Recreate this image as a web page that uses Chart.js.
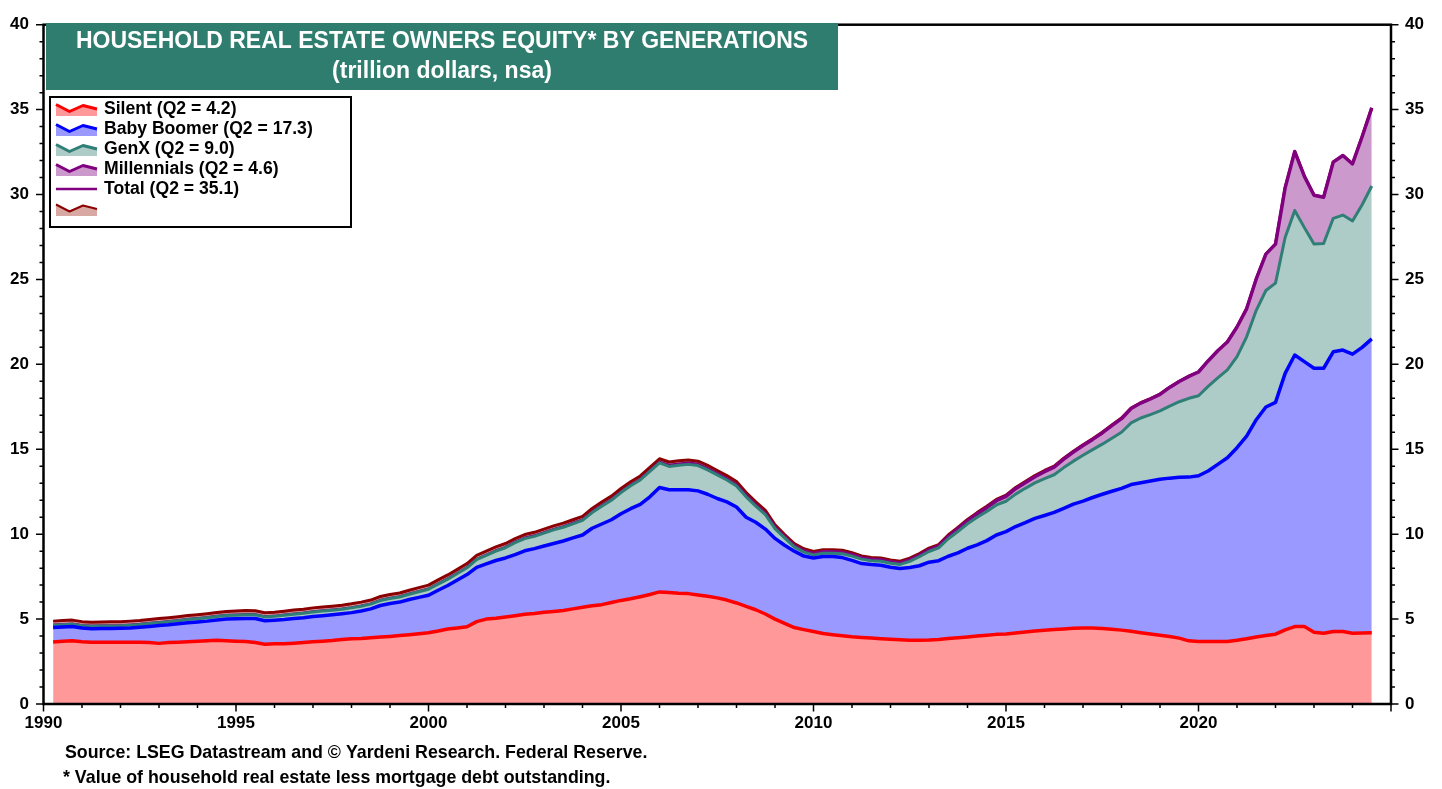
<!DOCTYPE html>
<html>
<head>
<meta charset="utf-8">
<script src="https://cdn.jsdelivr.net/npm/chart.js@4.4.1/dist/chart.umd.min.js"></script>
<style>
html,body{margin:0;padding:0;background:#fff;overflow:hidden}
#wrap{position:relative;width:1442px;height:789px}
</style>
</head>
<body>
<div id="wrap"><canvas id="c" width="1442" height="789"></canvas></div>
<script>
// ---------- DATA (quarterly, trillion dollars, 1990Q1 .. 2024Q2) ----------
const firstYear = 1990;          // first observation is 1990 Q1
const lastYear = 2024, lastQuarter = 2;

const xTickLabels = ['1990','1995','2000','2005','2010','2015','2020'];
const yTickLabels = ['0','5','10','15','20','25','30','35','40'];

const titleLines = ['HOUSEHOLD REAL ESTATE OWNERS EQUITY* BY GENERATIONS', '(trillion dollars, nsa)'];
const footnotes = ['Source: LSEG Datastream and \u00A9 Yardeni Research. Federal Reserve.',
                   '* Value of household real estate less mortgage debt outstanding.'];

const silent = [
 3.65,3.70,3.72,3.66, 3.64,3.64,3.64,3.64, 3.64,3.64,3.62,3.57, 3.62,3.64,3.67,3.69, 3.72,3.75,3.72,3.70,
 3.68,3.62,3.52,3.55, 3.55,3.58,3.62,3.67, 3.70,3.74,3.80,3.84, 3.86,3.90,3.94,3.98, 4.03,4.08,4.14,4.20,
 4.30,4.42,4.48,4.55, 4.85,5.00,5.05,5.12, 5.20,5.28,5.33,5.40, 5.45,5.50,5.60,5.70, 5.78,5.85,5.98,6.10,
 6.20,6.32,6.45,6.60, 6.56,6.52,6.50,6.42, 6.35,6.25,6.12,5.95, 5.75,5.55,5.30,5.00, 4.75,4.50,4.38,4.27,
 4.15,4.08,4.02,3.96, 3.92,3.88,3.84,3.81, 3.78,3.76,3.76,3.77, 3.80,3.85,3.90,3.95, 4.00,4.05,4.10,4.12,
 4.18,4.24,4.30,4.34, 4.38,4.42,4.46,4.47, 4.47,4.45,4.40,4.35, 4.28,4.20,4.12,4.05, 3.97,3.88,3.72,3.68,
 3.68,3.68,3.68,3.75, 3.84,3.95,4.03,4.11, 4.37,4.56,4.56,4.23, 4.17,4.27,4.27,4.17, 4.18,4.20
];
const babyBoomer = [
 0.85,0.83,0.84,0.81, 0.79,0.80,0.81,0.82, 0.84,0.88,0.95,1.05, 1.04,1.08,1.11,1.14, 1.16,1.20,1.28,1.32,
 1.36,1.41,1.38,1.38, 1.42,1.45,1.46,1.48, 1.50,1.51,1.51,1.54, 1.62,1.70,1.86,1.94, 1.97,2.07,2.14,2.20,
 2.40,2.56,2.82,3.07, 3.20,3.25,3.40,3.48, 3.60,3.74,3.82,3.90, 4.00,4.10,4.18,4.25, 4.57,4.75,4.87,5.10,
 5.30,5.43,5.75,6.15, 6.06,6.10,6.12,6.13, 6.00,5.85,5.78,5.65, 5.25,5.15,5.00,4.75, 4.60,4.50,4.33,4.33,
 4.53,4.60,4.60,4.50, 4.35,4.33,4.33,4.24, 4.20,4.28,4.38,4.58, 4.64,4.85,5.00,5.22, 5.37,5.57,5.85,6.03,
 6.27,6.44,6.63,6.76, 6.90,7.10,7.31,7.48, 7.69,7.90,8.13,8.35, 8.64,8.83,9.01,9.18, 9.33,9.47,9.64,9.76,
 10.04,10.43,10.82,11.34, 11.93,12.79,13.46,13.65, 15.10,15.99,15.60,15.54, 15.60,16.47,16.57,16.43, 16.82,17.30
];
const genX = [
 0.14,0.14,0.14,0.14, 0.15,0.15,0.15,0.15, 0.16,0.16,0.17,0.17, 0.18,0.18,0.19,0.19, 0.20,0.20,0.21,0.21,
 0.22,0.22,0.23,0.23, 0.25,0.26,0.26,0.27, 0.27,0.27,0.27,0.28, 0.28,0.28,0.29,0.29, 0.30,0.31,0.33,0.36,
 0.36,0.37,0.38,0.40, 0.45,0.50,0.55,0.60, 0.70,0.72,0.72,0.76, 0.80,0.81,0.83,0.86, 0.92,1.05,1.15,1.25,
 1.35,1.44,1.50,1.45, 1.37,1.44,1.49,1.49, 1.44,1.39,1.29,1.24, 1.20,0.95,0.85,0.58, 0.43,0.25,0.23,0.18,
 0.20,0.20,0.23,0.25, 0.26,0.23,0.24,0.24, 0.24,0.36,0.53,0.63, 0.75,1.03,1.26,1.44, 1.63,1.72,1.77,1.79,
 1.91,2.02,2.09,2.17, 2.22,2.40,2.53,2.70, 2.82,2.95,3.12,3.30, 3.63,3.81,3.91,4.03, 4.24,4.45,4.64,4.71,
 4.98,5.09,5.17,5.36, 5.85,6.44,6.86,7.02, 8.00,8.51,7.89,7.31, 7.35,7.86,7.95,7.84, 8.40,9.00
];
const millennials = [
 0,0,0,0, 0,0,0,0, 0,0,0,0, 0,0,0,0, 0,0,0,0,
 0,0,0,0, 0,0,0,0, 0,0,0,0, 0,0,0,0, 0,0,0,0,
 0.01,0.01,0.01,0.01, 0.01,0.01,0.01,0.01, 0.02,0.02,0.02,0.02, 0.02,0.02,0.02,0.02, 0.02,0.02,0.02,0.02,
 0.02,0.02,0.02,0.02, 0.06,0.06,0.06,0.06, 0.06,0.06,0.06,0.06, 0.07,0.07,0.07,0.07, 0.07,0.07,0.07,0.08,
 0.08,0.08,0.08,0.08, 0.08,0.08,0.08,0.08, 0.09,0.09,0.09,0.10, 0.11,0.13,0.15,0.17, 0.19,0.22,0.25,0.28,
 0.32,0.33,0.36,0.41, 0.45,0.50,0.54,0.57, 0.60,0.66,0.74,0.80, 0.85,0.88,0.92,0.97, 1.10,1.19,1.29,1.40,
 1.50,1.60,1.65,1.75, 1.65,1.85,2.14,2.30, 2.92,3.47,3.02,2.88, 2.72,3.31,3.51,3.36, 4.00,4.60
];
const unlabeled = [
 0.24,0.24,0.24,0.24, 0.24,0.24,0.24,0.24, 0.24,0.24,0.24,0.24, 0.24,0.24,0.24,0.24, 0.24,0.24,0.24,0.24,
 0.24,0.24,0.24,0.24, 0.24,0.24,0.24,0.24, 0.24,0.24,0.24,0.24, 0.24,0.24,0.24,0.24, 0.24,0.24,0.24,0.24,
 0.24,0.24,0.24,0.24, 0.24,0.24,0.24,0.24, 0.22,0.22,0.22,0.22, 0.22,0.22,0.22,0.22, 0.22,0.22,0.22,0.22,
 0.22,0.22,0.22,0.22, 0.20,0.20,0.20,0.20, 0.20,0.20,0.20,0.20, 0.18,0.18,0.18,0.15, 0.13,0.13,0.13,0.12,
 0.12,0.12,0.12,0.12, 0.11,0.11,0.11,0.11, 0.10,0.10,0.10,0.10, 0.09,0.09,0.09,0.09, 0.08,0.08,0.08,0.08,
 0.07,0.07,0.07,0.07, 0.05,0.05,0.05,0.05, 0.04,0.04,0.04,0.04, 0.02,0.02,0.02,0.02, 0.01,0.01,0.01,0,
 0,0,0,0, 0,0,0,0, 0,0,0,0, 0,0,0,0, 0,0
];

// ---------- build ----------
const quarterX = [];   // quarter-end positions on the year axis
for (let y = firstYear; y <= lastYear; y++) {
  for (let q = 1; q <= 4; q++) {
    if (y === lastYear && q > lastQuarter) break;
    quarterX.push(y + q / 4);
  }
}
const total = silent.map((v, i) => +(v + babyBoomer[i] + genX[i] + millennials[i]).toFixed(2));
const pts = arr => arr.map((v, i) => ({x: quarterX[i], y: v}));
const last = arr => arr[arr.length - 1].toFixed(1);

const FONT = '"Liberation Sans", Arial, Helvetica, sans-serif';

const datasets = [
  {label: `Silent (Q2 = ${last(silent)})`, data: pts(silent), borderColor: '#FF0000', backgroundColor: '#FF9999', borderWidth: 3.5, fill: 'origin', legendIcon: 'area'},
  {label: `Baby Boomer (Q2 = ${last(babyBoomer)})`, data: pts(babyBoomer), borderColor: '#0000FF', backgroundColor: '#9999FF', borderWidth: 3.5, fill: '-1', legendIcon: 'area'},
  {label: `GenX (Q2 = ${last(genX)})`, data: pts(genX), borderColor: '#2F7F76', backgroundColor: '#AECCC7', borderWidth: 3, fill: '-1', legendIcon: 'area'},
  {label: `Millennials (Q2 = ${last(millennials)})`, data: pts(millennials), borderColor: '#800080', backgroundColor: '#CC99CC', borderWidth: 3.5, fill: '-1', legendIcon: 'area'},
  {label: '', data: pts(unlabeled), borderColor: '#8B0000', backgroundColor: '#D8A8A2', borderWidth: 3, fill: '-1', legendIcon: 'area'},
  {label: `Total (Q2 = ${last(total)})`, data: pts(total), borderColor: '#800080', backgroundColor: 'transparent', borderWidth: 2, fill: false, stack: 'total', legendIcon: 'line'}
];
datasets.forEach(d => { d.pointRadius = 0; d.pointHoverRadius = 0; d.tension = 0; d.borderJoinStyle = 'round'; });
const legendOrder = [0, 1, 2, 3, 5, 4];

const decor = {
  id: 'decor',
  beforeDraw(chart) {
    const c = chart.ctx;
    c.save(); c.fillStyle = '#fff'; c.fillRect(0, 0, chart.width, chart.height); c.restore();
  },
  afterDraw(chart) {
    const c = chart.ctx, a = chart.chartArea, sx = chart.scales.x, sy = chart.scales.y;
    c.save();
    // frame
    c.strokeStyle = '#000'; c.lineWidth = 2.5;
    c.strokeRect(a.left, a.top, a.right - a.left, a.bottom - a.top);
    // tick marks
    c.lineWidth = 1.5; c.beginPath();
    for (let v = 0; v <= 40; v++) {
      const y = sy.getPixelForValue(v), L = v % 5 === 0 ? 7.5 : 4;
      c.moveTo(a.left, y); c.lineTo(a.left - L, y);
      c.moveTo(a.right, y); c.lineTo(a.right + L, y);
    }
    for (let yr = 1990; yr <= 2025; yr++) {
      const x = sx.getPixelForValue(yr), L = yr % 5 === 0 ? 7.5 : 4;
      c.moveTo(x, a.bottom); c.lineTo(x, a.bottom + L);
    }
    c.stroke();
    // title box
    c.fillStyle = '#2E7D6E'; c.fillRect(46, 23, 792, 67);
    c.fillStyle = '#fff'; c.font = 'bold 23px ' + FONT;
    c.textAlign = 'center'; c.textBaseline = 'middle';
    c.fillText(titleLines[0], 442, 41.5);
    c.fillText(titleLines[1], 442, 72);
    // legend
    const lx = 50, ly = 97, lw = 301, lh = 130;
    c.fillStyle = '#fff'; c.fillRect(lx, ly, lw, lh);
    c.strokeStyle = '#000'; c.lineWidth = 2; c.strokeRect(lx, ly, lw, lh);
    c.textAlign = 'left'; c.font = 'bold 17.6px ' + FONT;
    legendOrder.forEach((di, k) => {
      const ds = chart.data.datasets[di], yc = 109 + 20 * k;
      if (ds.legendIcon === 'line') {
        c.strokeStyle = ds.borderColor; c.lineWidth = 2.5;
        c.beginPath(); c.moveTo(56, yc); c.lineTo(97, yc); c.stroke();
      } else {
        const p = [[56, yc - 4.5], [69.5, yc + 2.5], [83, yc - 3.5], [97, yc]];
        c.fillStyle = ds.backgroundColor; c.beginPath();
        c.moveTo(p[0][0], p[0][1]); p.slice(1).forEach(q => c.lineTo(q[0], q[1]));
        c.lineTo(97, yc + 7); c.lineTo(56, yc + 7); c.closePath(); c.fill();
        c.strokeStyle = ds.borderColor; c.lineWidth = di === 4 ? 2 : 3; c.lineJoin = 'round';
        c.beginPath(); c.moveTo(p[0][0], p[0][1]); p.slice(1).forEach(q => c.lineTo(q[0], q[1])); c.stroke();
      }
      c.fillStyle = '#000';
      c.fillText(ds.label, 104, yc);
    });
    // footnotes
    c.font = 'bold 17.8px ' + FONT; c.fillStyle = '#000';
    c.fillText(footnotes[0], 65, 753);
    c.fillText(footnotes[1], 63, 778);
    c.restore();
  }
};

const tickFont = {family: FONT, size: 17, weight: 'bold'};
new Chart(document.getElementById('c'), {
  type: 'line',
  data: {datasets},
  options: {
    responsive: false, animation: false, events: [],
    layout: {padding: {top: 20, left: 0, right: 0, bottom: 0}},
    plugins: {legend: {display: false}, tooltip: {enabled: false}, title: {display: false}},
    scales: {
      x: {
        type: 'linear', min: 1990, max: 2025, position: 'bottom',
        grid: {display: false, drawTicks: false}, border: {display: false},
        ticks: {stepSize: 5, autoSkip: false, maxRotation: 0, padding: 9, color: '#000', font: tickFont,
          callback: v => xTickLabels.includes(String(v)) ? String(v) : ''},
        afterFit: s => { s.height = 85; }
      },
      y: {
        type: 'linear', stacked: true, min: 0, max: 40, position: 'left',
        grid: {display: false, drawTicks: false}, border: {display: false},
        ticks: {stepSize: 5, padding: 14.5, color: '#000', font: tickFont,
          callback: v => yTickLabels.includes(String(v)) ? String(v) : ''},
        afterFit: s => { s.width = 43.5; }
      },
      y2: {
        type: 'linear', min: 0, max: 40, position: 'right',
        grid: {display: false, drawTicks: false}, border: {display: false},
        ticks: {stepSize: 5, padding: 14, color: '#000', font: tickFont,
          callback: v => yTickLabels.includes(String(v)) ? String(v) : ''},
        afterFit: s => { s.width = 51; }
      }
    }
  },
  plugins: [decor]
});
</script>
</body>
</html>
